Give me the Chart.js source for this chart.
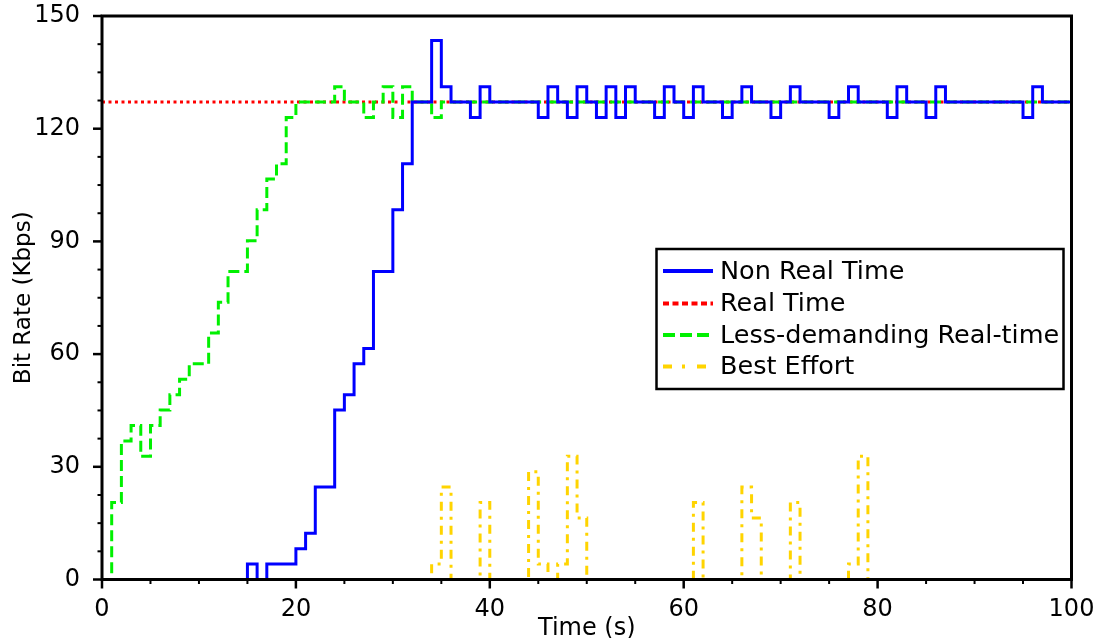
<!DOCTYPE html>
<html><head><meta charset="utf-8">
<script src="https://cdn.jsdelivr.net/npm/chart.js@4/dist/chart.umd.min.js"></script>
<style>html,body{margin:0;padding:0;background:#fff;}#wrap{width:1103px;height:638px;}</style>
</head><body><div id="wrap"><canvas id="c" width="1103" height="638"></canvas></div>
<script>
// ---- data ----
const seriesNames = ['Non Real Time', 'Real Time', 'Less-demanding Real-time', 'Best Effort'];

const nrtTimes = [0,15,16,17,20,21,22,24,25,26,27,28,30,31,32,34,35,36,38,39,40,45,46,47,48,49,50,51,52,53,54,55,57,58,59,60,61,62,64,65,66,67,69,70,71,72,75,76,77,78,81,82,83,85,86,87,95,96,97,100];
const nrtRates = [0,4.1,0,4.1,8.2,12.3,24.6,45.1,49.2,57.4,61.5,82,98.4,110.7,127.1,143.5,131.2,127.1,123,131.2,127.1,123,131.2,127.1,123,131.2,127.1,123,131.2,123,131.2,127.1,123,131.2,127.1,123,131.2,127.1,123,127.1,131.2,127.1,123,127.1,131.2,127.1,123,127.1,131.2,127.1,123,131.2,127.1,123,131.2,127.1,123,131.2,127.1,127.1];

const rtTimes = [0,100];
const rtRates = [127.1,127.1];

const ldrtTimes = [0,1,2,3,4,5,6,7,8,9,11,12,13,15,16,17,18,19,20,24,25,27,28,29,30,31,32,34,35,100];
const ldrtRates = [0,20.5,36.9,41,32.8,41,45.1,49.2,53.3,57.4,65.6,73.8,82,90.2,98.4,106.6,110.7,123,127.1,131.2,127.1,123,127.1,131.2,123,131.2,127.1,123,127.1,127.1];

const beTimes = [0,34,35,36,39,40,44,45,46,47,48,49,50,61,62,66,67,68,71,72,77,78,79,100];
const beRates = [0,4.1,24.6,0,20.5,0,28.7,4.1,0,4.1,32.8,16.4,0,20.5,0,24.6,16.4,0,20.5,0,4.1,32.8,0,0];

const xTicks = [0,20,40,60,80,100];
const yTicks = [0,30,60,90,120,150];
const xMinorTicks = [5,10,15,25,30,35,45,50,55,65,70,75,85,90,95];
const yMinorTicks = [7.5,15,22.5,37.5,45,52.5,67.5,75,82.5,97.5,105,112.5,127.5,135,142.5];

// ---- styling ----
const FONT = "'DejaVu Sans', 'Liberation Sans', sans-serif";
Chart.defaults.font.family = FONT;
Chart.defaults.color = '#000';

function pts(ts, vs) { return ts.map((t, i) => ({x: t, y: vs[i]})); }

const styles = [
  {color: '#0000ff', dash: [], legendDash: [], order: 0},
  {color: '#ff0000', dash: [3, 3.5], legendDash: [6, 3.5], order: 3},
  {color: '#00f000', dash: [11, 5], legendDash: [12, 5], order: 2},
  {color: '#ffd400', dash: [9, 6, 3, 6], legendDash: [9, 10, 3, 12], order: 1}
];
const seriesData = [pts(nrtTimes, nrtRates), pts(rtTimes, rtRates), pts(ldrtTimes, ldrtRates), pts(beTimes, beRates)];

const datasets = seriesNames.map((name, i) => ({
  label: name,
  data: seriesData[i],
  borderColor: styles[i].color,
  backgroundColor: styles[i].color,
  borderWidth: 3,
  borderDash: styles[i].dash,
  stepped: 'before',
  pointRadius: 0,
  fill: false,
  tension: 0,
  order: styles[i].order,
  borderCapStyle: 'butt',
  borderJoinStyle: 'miter'
}));

const framePlugin = {
  id: 'frame',
  afterDatasetsDraw(chart) {
    const {ctx, chartArea: a, scales: {x, y}} = chart;
    ctx.save();
    ctx.strokeStyle = '#000';
    ctx.lineCap = 'butt';
    const tick = (x1, y1, x2, y2, w) => { ctx.lineWidth = w; ctx.beginPath(); ctx.moveTo(x1, y1); ctx.lineTo(x2, y2); ctx.stroke(); };
    xTicks.forEach(v => { const px = x.getPixelForValue(v); tick(px, a.bottom, px, a.bottom + 9, 2.5); });
    xMinorTicks.forEach(v => { const px = x.getPixelForValue(v); tick(px, a.bottom, px, a.bottom + 4.5, 2); });
    yTicks.forEach(v => { const py = y.getPixelForValue(v); tick(a.left, py, a.left - 9, py, 2.5); });
    yMinorTicks.forEach(v => { const py = y.getPixelForValue(v); tick(a.left, py, a.left - 4.5, py, 2); });
    ctx.lineWidth = 3;
    ctx.strokeRect(a.left, a.top, a.right - a.left, a.bottom - a.top);

    // legend
    const lx = 656.5, ly = 249, lw = 407, lh = 140;
    ctx.fillStyle = '#fff';
    ctx.fillRect(lx, ly, lw, lh);
    ctx.lineWidth = 2.5;
    ctx.strokeRect(lx, ly, lw, lh);
    const rows = [271, 303.5, 335, 366.5];
    ctx.font = '25.5px ' + FONT;
    ctx.textBaseline = 'middle';
    ctx.textAlign = 'left';
    chart.data.datasets.forEach((ds, i) => {
      ctx.strokeStyle = ds.borderColor;
      ctx.lineWidth = 4;
      ctx.setLineDash(styles[i].legendDash);
      ctx.beginPath(); ctx.moveTo(663, rows[i]); ctx.lineTo(713, rows[i]); ctx.stroke();
      ctx.setLineDash([]);
      ctx.fillStyle = '#000';
      ctx.fillText(ds.label, 720, rows[i] + 1);
    });
    ctx.restore();
  }
};

new Chart(document.getElementById('c'), {
  type: 'line',
  data: {datasets},
  options: {
    responsive: false,
    animation: false,
    devicePixelRatio: 1,
    layout: {padding: {top: 16, right: 31.5, left: 0, bottom: 0}},
    plugins: {legend: {display: false}, tooltip: {enabled: false}},
    scales: {
      x: {
        type: 'linear', position: 'bottom', min: 0, max: 100,
        grid: {display: false}, border: {display: false},
        afterBuildTicks: s => { s.ticks = xTicks.map(v => ({value: v})); },
        afterFit: s => { s.height = 58.5; },
        ticks: {font: {size: 24}, color: '#000', padding: 8, autoSkip: false, maxRotation: 0, callback: v => String(v)},
        title: {display: true, text: 'Time (s)', font: {size: 24, lineHeight: 0.8}, color: '#000', padding: {top: 0, bottom: 0}}
      },
      y: {
        type: 'linear', position: 'left', min: 0, max: 150,
        grid: {display: false}, border: {display: false},
        afterBuildTicks: s => { s.ticks = yTicks.map(v => ({value: v})); },
        afterFit: s => { s.width = 102; },
        ticks: {font: {size: 24, lineHeight: 0.1}, color: '#000', padding: 14, autoSkip: false, callback: v => String(v)},
        title: {display: true, text: 'Bit Rate (Kbps)', font: {size: 23}, color: '#000', padding: {top: 10, bottom: 0}}
      }
    }
  },
  plugins: [framePlugin]
});
</script>
</body></html>
